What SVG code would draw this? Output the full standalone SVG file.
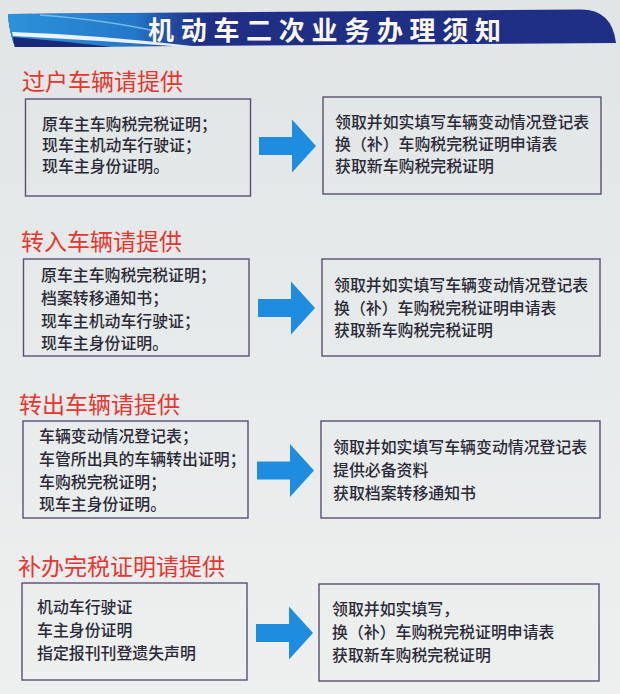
<svg xmlns="http://www.w3.org/2000/svg" width="620" height="694" viewBox="0 0 620 694">
  <defs>
    <linearGradient id="bg" x1="0" y1="0" x2="0" y2="1">
      <stop offset="0" stop-color="#e1e5e5"/>
      <stop offset="1" stop-color="#eef0f0"/>
    </linearGradient>
    <linearGradient id="swoosh" x1="0" y1="0" x2="1" y2="0">
      <stop offset="0" stop-color="#2b93da"/>
      <stop offset="0.6" stop-color="#2577c9"/>
      <stop offset="1" stop-color="#1f3f95" stop-opacity="0"/>
    </linearGradient>
    <path id="arrow" d="M0,-9 L33,-9 L33,-26.5 L57,0 L33,26.5 L33,9 L0,9 Z"/>
    <style>
      .box { fill: none; stroke: #5a4f6e; stroke-width: 1.4; }
      .sec { font-family: "Noto Sans CJK SC", "Noto Sans", sans-serif; font-size: 23px; fill: #e8352d; }
      .txt { font-family: "Noto Sans CJK SC", "Noto Sans", sans-serif; font-size: 15.9px; font-weight: 500; fill: #2b2a36; }
      .arr { fill: #1e8de0; }
      .title { font-family: "Noto Sans CJK SC", "Noto Sans", sans-serif; font-size: 26px; font-weight: bold; fill: #fbf7ec; letter-spacing: 6.7px; }
    </style>
  </defs>

  <rect x="0" y="0" width="620" height="694" fill="url(#bg)"/>

  <g id="header">
    <path d="M8,14 L580,9.5 Q612,9 616,43 L15,47 Q9,32 8,14 Z" fill="#1f2f86"/>
    <path d="M8,14 L220,12.5 C205,28 198,38 192,46 L15,47 Q9,32 8,14 Z" fill="url(#swoosh)"/>
    <path d="M40,15 Q105,20 155,31" fill="none" stroke="#86c8f0" stroke-width="1.4" opacity="0.8"/>
    <path d="M12,32 Q100,35 192,46 L172,46 Q92,40 13,36 Z" fill="#ffffff" opacity="0.9"/>
    <path d="M13,37 Q62,41 112,47 L15,47 Q13,42 13,37 Z" fill="#1b2a78"/>
    <text class="title" x="148" y="40">机动车二次业务办理须知</text>
  </g>

  <g id="section1">
    <text class="sec" x="22" y="90">过户车辆请提供</text>
    <g id="s1-left">
      <rect class="box" x="25.5" y="99" width="225" height="97"/>
      <text class="txt" x="42" y="130">原车主车购税完税证明；</text>
      <text class="txt" x="42" y="151">现车主机动车行驶证；</text>
      <text class="txt" x="42" y="172">现车主身份证明。</text>
    </g>
    <g id="s1-right">
      <rect class="box" x="323" y="97" width="278" height="97"/>
      <text class="txt" x="335" y="128">领取并如实填写车辆变动情况登记表</text>
      <text class="txt" x="335" y="150">换（补）车购税完税证明申请表</text>
      <text class="txt" x="335" y="172">获取新车购税完税证明</text>
    </g>
  </g>

  <g id="section2">
    <text class="sec" x="21" y="250">转入车辆请提供</text>
    <g id="s2-left">
      <rect class="box" x="23.5" y="259" width="225.5" height="97"/>
      <text class="txt" x="41" y="281">原车主车购税完税证明；</text>
      <text class="txt" x="41" y="304">档案转移通知书；</text>
      <text class="txt" x="41" y="327">现车主机动车行驶证；</text>
      <text class="txt" x="41" y="349">现车主身份证明。</text>
    </g>
    <g id="s2-right">
      <rect class="box" x="322" y="259" width="278" height="97"/>
      <text class="txt" x="334" y="291">领取并如实填写车辆变动情况登记表</text>
      <text class="txt" x="334" y="314">换（补）车购税完税证明申请表</text>
      <text class="txt" x="334" y="336">获取新车购税完税证明</text>
    </g>
  </g>

  <g id="section3">
    <text class="sec" x="19" y="413">转出车辆请提供</text>
    <g id="s3-left">
      <rect class="box" x="23" y="421" width="225" height="97"/>
      <text class="txt" x="39" y="442">车辆变动情况登记表；</text>
      <text class="txt" x="39" y="465">车管所出具的车辆转出证明；</text>
      <text class="txt" x="39" y="488">车购税完税证明；</text>
      <text class="txt" x="39" y="510">现车主身份证明。</text>
    </g>
    <g id="s3-right">
      <rect class="box" x="321" y="421" width="279" height="97"/>
      <text class="txt" x="333" y="453">领取并如实填写车辆变动情况登记表</text>
      <text class="txt" x="333" y="476">提供必备资料</text>
      <text class="txt" x="333" y="499">获取档案转移通知书</text>
    </g>
  </g>

  <g id="section4">
    <text class="sec" x="18" y="575">补办完税证明请提供</text>
    <g id="s4-left">
      <rect class="box" x="22" y="583" width="225" height="97"/>
      <text class="txt" x="37" y="613">机动车行驶证</text>
      <text class="txt" x="37" y="636">车主身份证明</text>
      <text class="txt" x="37" y="659">指定报刊刊登遗失声明</text>
    </g>
    <g id="s4-right">
      <rect class="box" x="319" y="584" width="280" height="97"/>
      <text class="txt" x="332" y="615">领取并如实填写，</text>
      <text class="txt" x="332" y="638">换（补）车购税完税证明申请表</text>
      <text class="txt" x="332" y="661">获取新车购税完税证明</text>
    </g>
  </g>

  <g id="connectors" class="arr">
    <use href="#arrow" transform="translate(259,146)"/>
    <use href="#arrow" transform="translate(258,308)"/>
    <use href="#arrow" transform="translate(257,470.5)"/>
    <use href="#arrow" transform="translate(256,633)"/>
  </g>
</svg>
